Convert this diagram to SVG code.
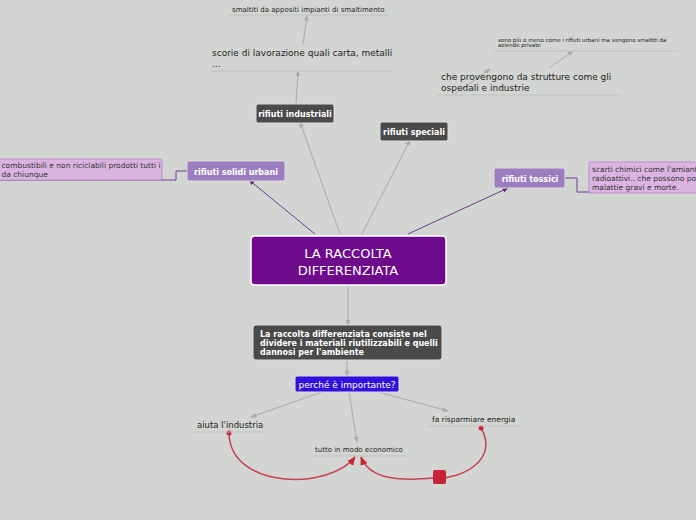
<svg xmlns="http://www.w3.org/2000/svg" width="696" height="520" viewBox="0 0 696 520">
<defs>
<marker id="ag" viewBox="0 0 10 10" refX="9" refY="5" markerWidth="6" markerHeight="6" orient="auto"><path d="M0,1 L10,5 L0,9 z" fill="#aaa"/></marker>
<marker id="ap" viewBox="0 0 10 10" refX="9" refY="5" markerWidth="6" markerHeight="6" orient="auto"><path d="M0,1 L10,5 L0,9 z" fill="#5e2d82"/></marker>
<marker id="ar" viewBox="0 0 10 10" refX="9" refY="5" markerWidth="6" markerHeight="6" orient="auto"><path d="M0,1 L10,5 L0,9 z" fill="#c8223a"/></marker>
</defs>
<style>
text{font-family:"DejaVu Sans","Liberation Sans",sans-serif}
.g{stroke:#aaa;fill:none;stroke-width:1}
.p{stroke:#6a3a92;fill:none;stroke-width:1}
.r{stroke:#c8404f;fill:none;stroke-width:1.5}
.ul{stroke:#bfc1bd;stroke-width:1}
.dk{fill:#4a4a4a;stroke:#ddd;stroke-width:1}
.lv{fill:#9c7ec0;stroke:#ddd;stroke-width:1}
.pk{fill:#dbb4e2;stroke:#b78fc8;stroke-width:1}
.wt{fill:#fff;font-weight:bold;font-size:8px}
.bt{fill:#222;font-size:9px}
</style>
<rect width="696" height="520" fill="#d3d5d2"/>
<g id="connectors">
<path class="g" d="M340,234 L300,122" marker-end="url(#ag)"/>
<path class="g" d="M362,234 L410,140" marker-end="url(#ag)"/>
<path class="p" d="M315,234 L249,180" marker-end="url(#ap)"/>
<path class="p" d="M408,234 L508,188" marker-end="url(#ap)"/>
<path class="g" d="M296,104 L298,71" marker-end="url(#ag)"/>
<path class="g" d="M303,44 L307,15" marker-end="url(#ag)"/>
<path class="g" d="M455,94 L490,69" marker-end="url(#ag)"/>
<path class="g" d="M549,68 L573,51" marker-end="url(#ag)"/>
<path class="p" d="M187,171 L176,171 L176,180 L0,180"/>
<path class="p" d="M565,178 L577,178 L577,192 L696,192"/>
<path class="g" d="M348,287 L348,325" marker-end="url(#ag)"/>
<path class="g" d="M347,360 L347,376" marker-end="url(#ag)"/>
<path class="g" d="M322,392 L251,417" marker-end="url(#ag)"/>
<path class="g" d="M349,392 L357,442" marker-end="url(#ag)"/>
<path class="g" d="M378,392 L448,411" marker-end="url(#ag)"/>
<path class="r" d="M229,433 C230,490 330,490 355,457" marker-end="url(#ar)"/>
<path class="r" d="M481,428 C500,460 460,480 435,478 C400,481 370,480 361,457" marker-end="url(#ar)"/>
<circle cx="229" cy="433" r="2.5" fill="#c8223a"/>
<circle cx="481" cy="428" r="2.5" fill="#c8223a"/>
<rect x="433" y="470" width="13" height="14" rx="2" fill="#c8223a"/>
</g>
<g id="main"><rect x="251" y="236" width="195" height="49" rx="4" fill="#6e0a8c" stroke="#fff" stroke-width="1.5"/>
<text x="348" y="258" text-anchor="middle" fill="#fff" font-size="13">LA RACCOLTA</text>
<text x="348" y="275" text-anchor="middle" fill="#fff" font-size="13">DIFFERENZIATA</text></g>
<g id="ind"><rect class="dk" x="256" y="104" width="78" height="19" rx="2"/><text class="wt" x="295" y="117" text-anchor="middle">rifiuti industriali</text></g>
<g id="spec"><rect class="dk" x="380" y="122" width="68" height="19" rx="2"/><text class="wt" x="414" y="135" text-anchor="middle">rifiuti speciali</text></g>
<g id="sol"><rect class="lv" x="187" y="161" width="98" height="20" rx="2"/><text class="wt" x="236" y="175" text-anchor="middle" font-size="9">rifiuti solidi urbani</text></g>
<g id="tox"><rect class="lv" x="494" y="168" width="71" height="20" rx="2"/><text class="wt" x="530" y="182" text-anchor="middle" font-size="9">rifiuti tossici</text></g>
<g id="solnote"><rect class="pk" x="-5" y="159" width="167" height="21" rx="2"/><text x="-3" y="168" font-size="7.5" fill="#333">i combustibili e non riciclabili prodotti tutti i</text><text x="-3" y="177" font-size="7.5" fill="#333">i da chiunque</text></g>
<g id="toxnote"><rect class="pk" x="589" y="162" width="112" height="31" rx="2"/><text x="592" y="172" font-size="7.5" fill="#333">scarti chimici come l'amianto,</text><text x="592" y="181" font-size="7.5" fill="#333">radioattivi.. che possono port</text><text x="592" y="190" font-size="7.5" fill="#333">malattie gravi e morte.</text></g>
<g id="scorie"><text class="bt" x="212" y="56">scorie di lavorazione quali carta, metalli</text><text class="bt" x="212" y="67">...</text><line class="ul" x1="210" y1="71" x2="392" y2="71"/></g>
<g id="smalt"><text x="232" y="12" font-size="7" fill="#222">smaltiti da appositi impianti di smaltimento</text><line class="ul" x1="228" y1="15" x2="388" y2="15"/></g>
<g id="prov"><text class="bt" x="441" y="80">che provengono da strutture come gli</text><text class="bt" x="441" y="91">ospedali e industrie</text><line class="ul" x1="437" y1="95" x2="622" y2="95"/></g>
<g id="piu"><text x="498" y="42" font-size="5.5" fill="#222">sono più o meno come i rifiuti urbani ma vengono smaltiti da</text><text x="498" y="47" font-size="5.5" fill="#222">aziende private</text><line class="ul" x1="494" y1="51" x2="678" y2="51"/></g>
<g id="def"><rect class="dk" x="253" y="325" width="189" height="35" rx="3"/><text class="wt" x="260" y="337" font-size="7">La raccolta differenziata consiste nel</text><text class="wt" x="260" y="346" font-size="7">dividere i materiali riutilizzabili e quelli</text><text class="wt" x="260" y="355" font-size="7">dannosi per l'ambiente</text></g>
<g id="perche"><rect x="295" y="376" width="104" height="16" rx="2" fill="#3311dd" stroke="#ddd"/><text x="347" y="388" text-anchor="middle" fill="#fff" font-size="9">perché è importante?</text></g>
<g id="aiuta"><text x="197" y="428" font-size="8.5" fill="#222">aiuta l'industria</text><line class="ul" x1="194" y1="432" x2="264" y2="432"/></g>
<g id="tutto"><text x="315" y="452" font-size="7" fill="#222">tutto in modo economico</text><line class="ul" x1="310" y1="456" x2="406" y2="456"/></g>
<g id="fa"><text x="432" y="422" font-size="7.5" fill="#222">fa risparmiare energia</text><line class="ul" x1="428" y1="426" x2="520" y2="426"/></g>
</svg>
